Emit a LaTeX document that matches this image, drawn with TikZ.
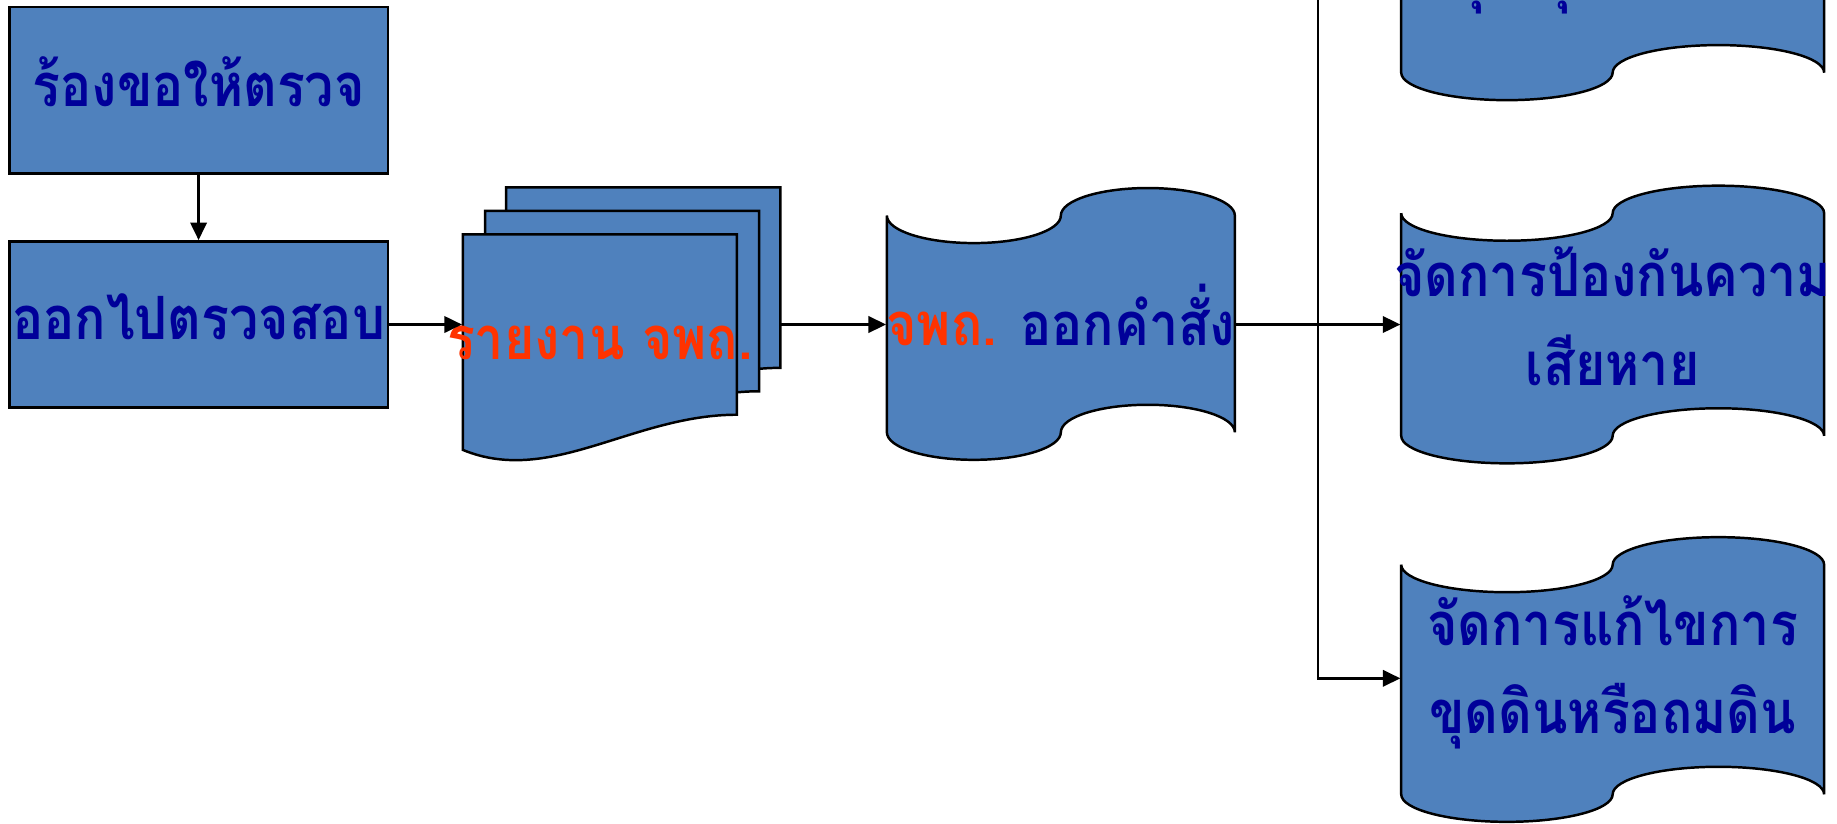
\documentclass[tikz,border=0pt]{standalone}
\usepackage{fontspec}
\newfontfamily\thaifont[Script=Thai, FakeStretch=0.87]{Loma}
\usepackage{xcolor}
\usetikzlibrary{calc, arrows.meta}
\definecolor{flowblue}{RGB}{79,129,189}
\definecolor{thainavy}{RGB}{0,0,153}
\definecolor{reportred}{RGB}{255,51,0}
\tikzset{flowbox/.style={draw=black, fill=flowblue, line width=0.6pt, minimum width=3.23cm, minimum height=1.42cm, inner sep=0pt},
    flowtext/.style={font=\thaifont\bfseries\fontsize{14.5pt}{21.5pt}\selectfont, text=thainavy, align=center, inner sep=0pt},
    sheet/.style={draw=black, fill=flowblue, line width=0.6pt},
    link/.style={-{Triangle[length=1.5mm, width=1.4mm]}, line width=0.6pt}}
% punched tape: left x, top y of the side, width, side height
\newcommand{\tapepath}[4]{%
    \draw[sheet] (#1,#2) arc[start angle=180, end angle=360, x radius=#3/4, y radius=0.235]
        arc[start angle=180, end angle=0, x radius=#3/4, y radius=0.235]
        -- ++(0,-#4) arc[start angle=0, end angle=180, x radius=#3/4, y radius=0.235]
        arc[start angle=360, end angle=180, x radius=#3/4, y radius=0.235] -- cycle;}
% one sheet of the document stack, from its top left corner
\newcommand{\docsheet}[2]{%
    \draw[sheet, shift={(#1,#2)}] (0,0) -- (2.34,0) -- (2.34,-1.54)
        .. controls (1.45,-1.54) and (0.75,-2.15) .. (0,-1.84) -- cycle;}
\begin{document}
\begin{tikzpicture}
    \useasboundingbox (0,0) rectangle (15.68,-7.025);
    \node[flowbox] (request) at (1.695,-0.77) {};
    \node[flowbox] (inspect) at (1.695,-2.77) {};
    \node[flowtext, yshift=0.07cm] (request text) at (request) {ร้องขอให้ตรวจ};
    \node[flowtext, yshift=0.07cm] (inspect text) at (inspect) {ออกไปตรวจสอบ};
    \docsheet{4.32}{-1.60}
    \docsheet{4.14}{-1.80}
    \docsheet{3.95}{-2.00}
    \node[minimum width=2.34cm, inner sep=0pt] (report) at (5.12,-2.77) {};
    \node[flowtext, text=reportred] (report text) at (5.12,-2.93) {รายงาน จพถ.};
    \coordinate (stackout) at (6.66,-2.77);
    \tapepath{7.57}{-1.84}{2.97}{1.85}
    \node[minimum width=2.97cm, inner sep=0pt] (order) at (9.055,-2.77) {};
    \node[flowtext, yshift=0.08cm] (order text) at (order) {\textcolor{reportred}{จพถ.} ออกคำสั่ง};
    \tapepath{11.96}{1.28}{3.61}{1.90}
    \tapepath{11.96}{-1.82}{3.61}{1.90}
    \tapepath{11.96}{-4.82}{3.61}{1.96}
    \node[minimum width=3.61cm, inner sep=0pt] (halt) at (13.765,0.33) {};
    \node[minimum width=3.61cm, inner sep=0pt] (prevent) at (13.765,-2.77) {};
    \node[minimum width=3.61cm, inner sep=0pt] (fix) at (13.765,-5.79) {};
    \node[flowtext] (halt text) at (14.185,0.585) {สั่งให้\\หยุด ขุดดินหรือถมดิน};
    \node[flowtext, yshift=0.07cm] (prevent text) at (prevent) {จัดการป้องกันความ\\เสียหาย};
    \node[flowtext, yshift=0.05cm] (fix text) at (fix) {จัดการแก้ไขการ\\ขุดดินหรือถมดิน};
    \draw[link] (request) -- (inspect);
    \draw[link] (inspect.east) -- (report.west);
    \draw[link] (stackout) -- (stackout -| order.west);
    \draw[link] (order.east) -- (prevent.west);
    \coordinate (split) at ($(order.east)!0.5!(prevent.west)$);
    \draw[link] (split) |- (fix.west);
    \draw[link] (split) |- (halt.west);
\end{tikzpicture}
\end{document}
